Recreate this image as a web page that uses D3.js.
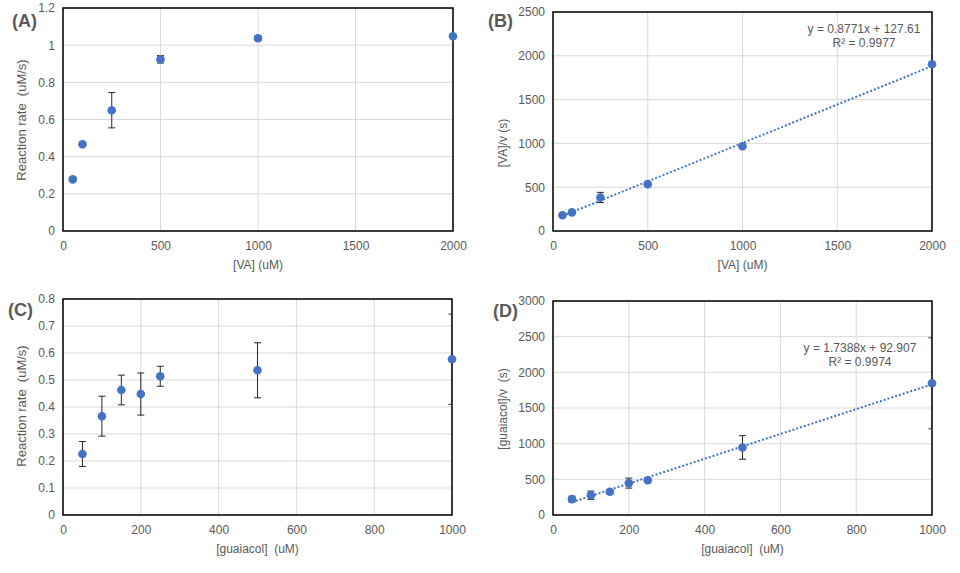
<!DOCTYPE html>
<html><head><meta charset="utf-8">
<script src="https://cdn.jsdelivr.net/npm/d3@7"></script>
<style>body{margin:0;background:#fff;}svg{display:block;font-family:"Liberation Sans",Arial,sans-serif;}</style>
</head><body>
<svg id="c" width="960" height="573"></svg>
<script>
// ---- data ----
const vaConc = [50, 100, 250, 500, 1000, 2000];
const vaRate = [0.278, 0.467, 0.65, 0.924, 1.037, 1.048];
const vaRateErr = [0.01, 0.006, 0.095, 0.02, 0.012, 0.006];
const vaRatio = [180, 213, 383, 535, 968, 1903];
const vaRatioErr = [8, 6, 58, 12, 12, 10];

const guaConc = [50, 100, 150, 200, 250, 500, 1000];
const guaRate = [0.226, 0.366, 0.463, 0.448, 0.514, 0.536, 0.577];
const guaRateErr = [0.046, 0.074, 0.055, 0.078, 0.037, 0.102, 0.167];
const guaRatio = [222, 276, 325, 447, 488, 947, 1846];
const guaRatioErr = [40, 60, 28, 70, 28, 165, 638];

const fitVA = {slope: 0.8771, intercept: 127.61, eq: "y = 0.8771x + 127.61", r2: "R² = 0.9977"};
const fitGua = {slope: 1.7388, intercept: 92.907, eq: "y = 1.7388x + 92.907", r2: "R² = 0.9974"};

const panelLabels = ["(A)", "(B)", "(C)", "(D)"];
const xTitles = ["[VA] (uM)", "[VA] (uM)", "[guaiacol]  (uM)", "[guaiacol]  (uM)"];
const yTitles = ["Reaction rate  (uM/s)", "[VA]/v (s)", "Reaction rate  (uM/s)", "[guaiacol]/v  (s)"];
const vaXTicks = [0, 500, 1000, 1500, 2000];
const guaXTicks = [0, 200, 400, 600, 800, 1000];
const rateTicksA = [0, 0.2, 0.4, 0.6, 0.8, 1, 1.2];
const ratioTicksB = [0, 500, 1000, 1500, 2000, 2500];
const rateTicksC = [0, 0.1, 0.2, 0.3, 0.4, 0.5, 0.6, 0.7, 0.8];
const ratioTicksD = [0, 500, 1000, 1500, 2000, 2500, 3000];

const svg = d3.select("#c");
const TXT = "#595959", BLUE = "#4472C4";

const panels = [
  {label: panelLabels[0], lx: 12, ly: 27, box: [63, 8, 453, 231], xd: [0, 2000], yd: [0, 1.2], xt: vaXTicks, yt: rateTicksA,
   x: vaConc, y: vaRate, e: vaRateErr, xTitle: xTitles[0], yTitle: yTitles[0], ytx: 26, yty: 120, yfs: 13},
  {label: panelLabels[1], lx: 488, ly: 27, box: [553, 12, 932, 231], xd: [0, 2000], yd: [0, 2500], xt: vaXTicks, yt: ratioTicksB,
   x: vaConc, y: vaRatio, e: vaRatioErr, xTitle: xTitles[1], yTitle: yTitles[1], ytx: 507, yty: 143, yfs: 12, fit: fitVA, eqx: 864, eqy: 33},
  {label: panelLabels[2], lx: 8, ly: 316, box: [63, 299, 452, 515], xd: [0, 1000], yd: [0, 0.8], xt: guaXTicks, yt: rateTicksC,
   x: guaConc, y: guaRate, e: guaRateErr, xTitle: xTitles[2], yTitle: yTitles[2], ytx: 26, yty: 406, yfs: 13},
  {label: panelLabels[3], lx: 493, ly: 317, box: [553, 301, 932, 515], xd: [0, 1000], yd: [0, 3000], xt: guaXTicks, yt: ratioTicksD,
   x: guaConc, y: guaRatio, e: guaRatioErr, xTitle: xTitles[3], yTitle: yTitles[3], ytx: 507, yty: 409, yfs: 12, fit: fitGua, eqx: 860, eqy: 352}
];

panels.forEach((p, i) => {
  const [x0, y0, x1, y1] = p.box;
  const xs = d3.scaleLinear().domain(p.xd).range([x0, x1]);
  const ys = d3.scaleLinear().domain(p.yd).range([y1, y0]);
  const g = svg.append("g");

  // gridlines
  g.append("g").selectAll("line.h").data(p.yt).join("line")
    .attr("x1", x0).attr("x2", x1).attr("y1", d => ys(d)).attr("y2", d => ys(d))
    .attr("stroke", "#d9d9d9").attr("stroke-width", 1);
  g.append("g").selectAll("line.v").data(p.xt).join("line")
    .attr("y1", y0).attr("y2", y1).attr("x1", d => xs(d)).attr("x2", d => xs(d))
    .attr("stroke", "#d9d9d9").attr("stroke-width", 1);

  // axes (labels only)
  const xa = g.append("g").attr("transform", `translate(0,${y1})`)
    .call(d3.axisBottom(xs).tickValues(p.xt).tickSize(0).tickPadding(10).tickFormat(d3.format("d")));
  const ya = g.append("g").attr("transform", `translate(${x0},0)`)
    .call(d3.axisLeft(ys).tickValues(p.yt).tickSize(0).tickPadding(8).tickFormat(d => String(+d.toFixed(2))));
  [xa, ya].forEach(a => {
    a.select(".domain").remove();
    a.selectAll("text").attr("fill", TXT).style("font-size", "12px").style("font-family", '"Liberation Sans",Arial,sans-serif');
  });

  // border
  g.append("rect").attr("x", x0).attr("y", y0).attr("width", x1 - x0).attr("height", y1 - y0)
    .attr("fill", "none").attr("stroke", "#000").attr("stroke-width", 1.5);

  // clip for error bars
  const cid = "clip" + i;
  svg.append("clipPath").attr("id", cid).append("rect")
    .attr("x", x0).attr("y", y0).attr("width", x1 - x0).attr("height", y1 - y0);

  // trendline
  if (p.fit) {
    const xmin = d3.min(p.x), xmax = d3.max(p.x);
    g.append("line")
      .attr("x1", xs(xmin)).attr("y1", ys(p.fit.slope * xmin + p.fit.intercept))
      .attr("x2", xs(xmax)).attr("y2", ys(p.fit.slope * xmax + p.fit.intercept))
      .attr("stroke", BLUE).attr("stroke-width", 2).attr("stroke-dasharray", "2,2");
    g.append("text").attr("x", p.eqx).attr("y", p.eqy).attr("text-anchor", "middle")
      .attr("fill", TXT).style("font-size", "12px").text(p.fit.eq);
    g.append("text").attr("x", p.eqx).attr("y", p.eqy + 14).attr("text-anchor", "middle")
      .attr("fill", TXT).style("font-size", "12px").text(p.fit.r2);
  }

  // error bars
  const pts = p.x.map((xv, k) => ({x: xv, y: p.y[k], e: p.e[k]}));
  const eg = g.append("g").attr("clip-path", `url(#${cid})`).attr("stroke", "#262626").attr("stroke-width", 1);
  eg.selectAll("line.v").data(pts).join("line")
    .attr("x1", d => xs(d.x)).attr("x2", d => xs(d.x)).attr("y1", d => ys(d.y + d.e)).attr("y2", d => ys(d.y - d.e));
  eg.selectAll("line.t").data(pts).join("line")
    .attr("x1", d => xs(d.x) - 3.5).attr("x2", d => xs(d.x) + 3.5).attr("y1", d => ys(d.y + d.e)).attr("y2", d => ys(d.y + d.e));
  eg.selectAll("line.b").data(pts).join("line")
    .attr("x1", d => xs(d.x) - 3.5).attr("x2", d => xs(d.x) + 3.5).attr("y1", d => ys(d.y - d.e)).attr("y2", d => ys(d.y - d.e));

  // markers
  g.append("g").selectAll("circle").data(pts).join("circle")
    .attr("cx", d => xs(d.x)).attr("cy", d => ys(d.y)).attr("r", 4.3).attr("fill", BLUE);

  // titles
  g.append("text").attr("x", (x0 + x1) / 2).attr("y", y1 + 38).attr("text-anchor", "middle")
    .style("white-space", "pre").attr("fill", TXT).style("font-size", "12px").text(p.xTitle);
  g.append("text").attr("transform", `translate(${p.ytx},${p.yty}) rotate(-90)`).attr("text-anchor", "middle")
    .style("white-space", "pre").attr("fill", TXT).style("font-size", p.yfs + "px").text(p.yTitle);
  g.append("text").attr("x", p.lx).attr("y", p.ly).attr("fill", TXT)
    .style("font-size", "18px").style("font-weight", "bold").text(p.label);
});
</script>
</body></html>
